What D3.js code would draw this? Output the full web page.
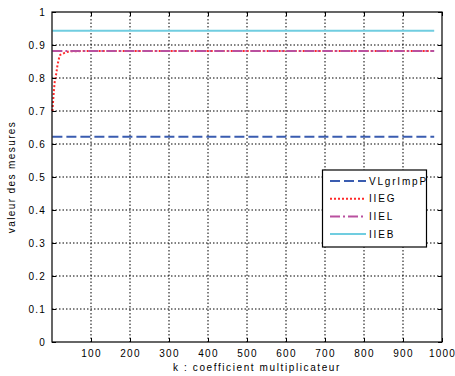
<!DOCTYPE html>
<html><head><meta charset="utf-8">
<script src="https://cdn.jsdelivr.net/npm/d3@7"></script>
<style>
body{margin:0;background:#fff;}
text{font-family:"Liberation Sans",Arial,sans-serif;font-size:10px;fill:#000;letter-spacing:1.2px;}
</style></head>
<body><svg id="c" width="455" height="376"></svg>
<script>
// data
const kValues = [1, 5, 7, 11, 14, 18, 21, 32, 45, 100, 200, 300, 400, 500, 600, 700, 800, 900, 980];
const seriesNames = ["VLgrImpP", "IIEG", "IIEL", "IIEB"];
const vlgrImpP = [0.622,0.622,0.622,0.622,0.622,0.622,0.622,0.622,0.622,0.622,0.622,0.622,0.622,0.622,0.622,0.622,0.622,0.622,0.622];
const iieg = [0.700,0.764,0.789,0.814,0.839,0.860,0.870,0.876,0.881,0.882,0.882,0.882,0.882,0.882,0.882,0.882,0.882,0.882,0.882];
const iiel = [0.882,0.882,0.882,0.882,0.882,0.882,0.882,0.882,0.882,0.882,0.882,0.882,0.882,0.882,0.882,0.882,0.882,0.882,0.882];
const iieb = [0.943,0.943,0.943,0.943,0.943,0.943,0.943,0.943,0.943,0.943,0.943,0.943,0.943,0.943,0.943,0.943,0.943,0.943,0.943];
const xTicks = [100,200,300,400,500,600,700,800,900,1000];
const yTicks = [0,0.1,0.2,0.3,0.4,0.5,0.6,0.7,0.8,0.9,1];
const xLabel = "k : coefficient multiplicateur";
const yLabel = "valeur des mesures";

const svg = d3.select("#c");
const L=52, R=442, T=12, B=342;
const x = d3.scaleLinear().domain([0,1000]).range([L,R]);
const y = d3.scaleLinear().domain([0,1]).range([B,T]);

// grid
const g = svg.append("g");
g.selectAll("line.gx").data(xTicks.filter(d=>d<1000)).join("line")
  .attr("x1",d=>x(d)).attr("x2",d=>x(d)).attr("y1",T).attr("y2",B)
  .attr("stroke","#000").attr("stroke-width",1).attr("stroke-dasharray","1.5,2");
g.selectAll("line.gy").data(yTicks.filter(d=>d>0&&d<1)).join("line")
  .attr("x1",L).attr("x2",R).attr("y1",d=>y(d)).attr("y2",d=>y(d))
  .attr("stroke","#000").attr("stroke-width",1).attr("stroke-dasharray","1.5,2");

// series
const series = [
  {name:seriesNames[0], vals:vlgrImpP, color:"#3a5cb0", dash:"10,4"},
  {name:seriesNames[1], vals:iieg, color:"#ff2a2a", dash:"2,2"},
  {name:seriesNames[2], vals:iiel, color:"#b9509f", dash:"10,3,2,3"},
  {name:seriesNames[3], vals:iieb, color:"#70cde0", dash:null}
];
const line = d3.line().x((d,i)=>x(kValues[i])).y(d=>y(d));
series.forEach(s=>{
  svg.append("path").datum(s.vals).attr("d",line).attr("fill","none")
    .attr("stroke",s.color).attr("stroke-width",2)
    .attr("stroke-dasharray",s.dash);
});

// axes (box with inward ticks)
const axB = d3.axisBottom(x).tickValues(xTicks).tickSize(-4).tickPadding(8).tickFormat(d3.format("d"));
const axT = d3.axisTop(x).tickValues(xTicks).tickSize(-4).tickFormat("");
const axLft = d3.axisLeft(y).tickValues(yTicks).tickSize(-4).tickPadding(6).tickFormat(d=>d===0?"0":d===1?"1":d3.format(".1f")(d));
const axRt = d3.axisRight(y).tickValues(yTicks).tickSize(-4).tickFormat("");
function style(sel){
  sel.select(".domain").attr("stroke","#000").attr("stroke-width",1.2);
  sel.selectAll(".tick line").attr("stroke","#000");
  sel.selectAll("text").attr("font-family",null).attr("font-size",null).attr("fill","#000");
}
svg.append("g").attr("transform",`translate(0,${B})`).call(axB).call(style);
svg.append("g").attr("transform",`translate(0,${T})`).call(axT).call(style);
svg.append("g").attr("transform",`translate(${L},0)`).call(axLft).call(style);
svg.append("g").attr("transform",`translate(${R},0)`).call(axRt).call(style);
svg.selectAll(".domain").attr("d",null);
svg.append("rect").attr("x",L).attr("y",T).attr("width",R-L).attr("height",B-T)
  .attr("fill","none").attr("stroke","#000").attr("stroke-width",1.2);

// labels
svg.append("text").attr("x",(L+R)/2+10).attr("y",371).attr("text-anchor","middle")
  .style("letter-spacing","1.6px").text(xLabel);
svg.append("text").attr("transform",`translate(15,${(T+B)/2}) rotate(-90)`).attr("text-anchor","middle")
  .style("letter-spacing","1.4px").text(yLabel);

// legend
const lg = svg.append("g");
lg.append("rect").attr("x",322.5).attr("y",170).attr("width",104).attr("height",77)
  .attr("fill","#fff").attr("stroke","#000").attr("stroke-width",1.2);
series.forEach((s,i)=>{
  const yy = 181 + i*17.7;
  lg.append("line").attr("x1",330).attr("x2",366).attr("y1",yy).attr("y2",yy)
    .attr("stroke",s.color).attr("stroke-width",2).attr("stroke-dasharray",s.dash);
  lg.append("text").attr("x",369).attr("y",yy+3.5).style("letter-spacing","1.8px").text(s.name);
});
</script></body></html>
